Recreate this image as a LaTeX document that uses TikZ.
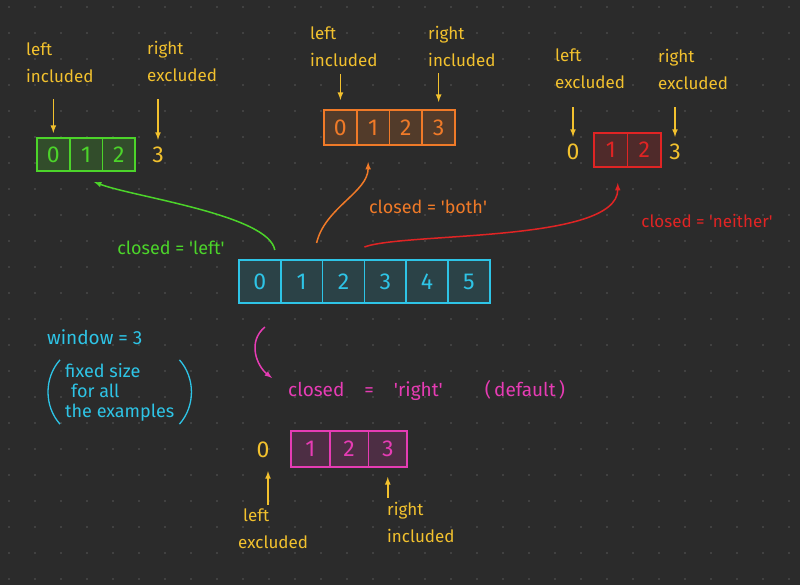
\documentclass[tikz,border=0pt]{standalone}
\usepackage{fontspec}
\setmainfont{Fira Sans}
\usetikzlibrary{positioning}
\definecolor{bgc}{HTML}{2B2B2B}
\definecolor{dotc}{HTML}{585858}
\definecolor{yel}{HTML}{F2C12E}
\definecolor{grn}{HTML}{4CD42A}
\definecolor{org}{HTML}{F07A28}
\definecolor{redc}{HTML}{E02424}
\definecolor{cyn}{HTML}{2EC4E6}
\definecolor{mag}{HTML}{E63CB4}
\newcommand{\sq}[1]{\textquotesingle#1\textquotesingle}

\begin{document}
\begin{tikzpicture}[x=1pt,y=-1pt]
    \tikzstyle{cell}=[rectangle, draw, line width=1.6pt, outer sep=0pt, inner sep=0pt, font=\fontsize{23}{23}\selectfont]
    \tikzstyle{gcell}=[cell, draw=grn, fill=grn!20!bgc, text=grn, minimum width=32.7pt, minimum height=33pt]
    \tikzstyle{ocell}=[cell, draw=org, fill=org!20!bgc, text=org, minimum width=32.75pt, minimum height=35pt]
    \tikzstyle{rcell}=[cell, draw=redc, fill=redc!20!bgc, text=redc, minimum width=33.5pt, minimum height=34pt]
    \tikzstyle{ccell}=[cell, draw=cyn, fill=cyn!15!bgc, text=cyn, minimum width=41.8pt, minimum height=43pt]
    \tikzstyle{mcell}=[cell, draw=mag, fill=mag!18!bgc, text=mag, minimum width=38.7pt, minimum height=36pt]
    \tikzstyle{note}=[text=yel, align=left, anchor=west, inner sep=0pt, font=\fontsize{17}{27}\selectfont]
    \tikzstyle{num}=[text=yel, inner sep=1pt, font=\fontsize{23}{23}\selectfont]
    \tikzstyle{tag}=[inner sep=1pt, font=\fontsize{18}{18}\selectfont]
    \tikzstyle{yarrow}=[-latex, draw=yel, line width=1.6pt]
    \tikzstyle{connect}=[-latex, line width=1.5pt]
    % background and dot grid
    \useasboundingbox (0,0) rectangle (800,585);
    \fill[bgc] (0,0) rectangle (800,585);
    \foreach \x in {9,35,...,800}
      \foreach \y in {7,33,...,585}
        \fill[dotc] (\x,\y) circle (0.9pt);
    % closed = 'left'
      \node[gcell] (g0) at (53.35,154.5) {0};
      \node[gcell] (g1) [right=0pt of g0] {1};
      \node[gcell] (g2) [right=0pt of g1] {2};
      \node[num] (gthree) at (158,155) {3};
      \node[note] (gllab) at (26,63) {left\\included};
      \node[note] (grlab) at (147,61) {right\\excluded};
    % closed = 'both'
      \node[ocell] (o0) at (340.4,127.5) {0};
      \node[ocell] (o1) [right=0pt of o0] {1};
      \node[ocell] (o2) [right=0pt of o1] {2};
      \node[ocell] (o3) [right=0pt of o2] {3};
      \node[note] (ollab) at (310,47) {left\\included};
      \node[note] (orlab) at (428,46) {right\\included};
    % closed = 'neither'
      \node[rcell] (r0) at (610.75,150) {1};
      \node[rcell] (r1) [right=0pt of r0] {2};
      \node[num] (rzero) at (573,152) {0};
      \node[num] (rthree) at (675,152) {3};
      \node[note] (rllab) at (555,69) {left\\excluded};
      \node[note] (rrlab) at (658,69) {right\\excluded};
    % the series
      \node[ccell] (c0) at (259.9,281.5) {0};
      \node[ccell] (c1) [right=0pt of c0] {1};
      \node[ccell] (c2) [right=0pt of c1] {2};
      \node[ccell] (c3) [right=0pt of c2] {3};
      \node[ccell] (c4) [right=0pt of c3] {4};
      \node[ccell] (c5) [right=0pt of c4] {5};
    % closed = 'right'
      \node[mcell] (m0) at (310.35,449) {1};
      \node[mcell] (m1) [right=0pt of m0] {2};
      \node[mcell] (m2) [right=0pt of m1] {3};
      \node[num] (mzero) at (263,450) {0};
      \node[note] (mllab) at (238,529) {\hspace{5pt}left\\excluded};
      \node[note] (mrlab) at (387,522) {right\\included};
    % captions
      \node[tag, text=grn] (gtag) at (171,248) {closed = \sq{left}};
      \node[tag, text=org] (otag) at (428,207) {closed = \sq{both}};
      \node[tag, text=redc, font=\fontsize{17}{17}\selectfont] (rtag) at (707,221) {closed = \sq{neither}};
      \node[tag, text=mag, anchor=west, font=\fontsize{19}{19}\selectfont] (mtag) at (287,390) {closed\hspace{20pt}=\hspace{20pt}\sq{right}\hspace{42pt}(\,default\,)};
      \node[text=cyn, anchor=west, inner sep=0pt, font=\fontsize{19}{19}\selectfont] (win) at (47,337) {window = 3};
      \node[text=cyn, anchor=west, align=left, inner sep=1pt, font=\fontsize{18}{20}\selectfont] (fix) at (64,392) {fixed size\\\hspace{6pt}for all\\the examples};
      \draw[cyn, line width=1.3pt] ([xshift=-4pt,yshift=2pt]fix.north west) .. controls +(-16,18) and +(-16,-18) .. ([xshift=-4pt,yshift=-2pt]fix.south west);
      \draw[cyn, line width=1.3pt] ([xshift=4pt,yshift=2pt]fix.north east) .. controls +(16,18) and +(16,-18) .. ([xshift=4pt,yshift=-2pt]fix.south east);
    % pointers
      \draw[yarrow, shorten <=16pt, shorten >=5pt] (gllab.south -| g0.north) -- (g0.north);
      \draw[yarrow, shorten <=18pt, shorten >=6pt] (grlab.south -| gthree.north) -- (gthree.north);
      \draw[yarrow, shorten <=7pt, shorten >=10pt] (ollab.south -| o0.north) -- (o0.north);
      \draw[yarrow, shorten <=7pt, shorten >=8pt] (orlab.south -| o3.north) -- (o3.north);
      \draw[yarrow, shorten <=18pt, shorten >=6pt] (rllab.south -| rzero.north) -- (rzero.north);
      \draw[yarrow, shorten <=18pt, shorten >=6pt] (rrlab.south -| rthree.north) -- (rthree.north);
      \draw[yarrow, shorten <=4pt, shorten >=12pt] ([xshift=5pt]mllab.north -| mzero.south) -- ([xshift=5pt]mzero.south);
      \draw[yarrow, shorten <=4pt, shorten >=10pt] (mrlab.north -| m2.south) -- (m2.south);
      \draw[grn, connect] ([xshift=-6pt,yshift=10pt]c0.north east) .. controls +(-6,-35) and +(40,15) .. ([xshift=8pt,yshift=-11pt]g1.south);
      \draw[org, connect] ([xshift=-6pt,yshift=17pt]c1.north east) .. controls +(8,-35) and +(0,30) .. ([xshift=-5pt,yshift=-17pt]o1.south);
      \draw[redc, connect] ([yshift=13pt]c2.north east) .. controls +(40,-15) and +(0,60) .. ([xshift=7pt,yshift=-16pt]r0.south);
      \draw[mag, connect] ([xshift=5pt,yshift=-24pt]c0.south) .. controls +(-18,15) and +(-15,-12) .. ([xshift=-15pt,yshift=12pt]mtag.west);
\end{tikzpicture}
\end{document}
